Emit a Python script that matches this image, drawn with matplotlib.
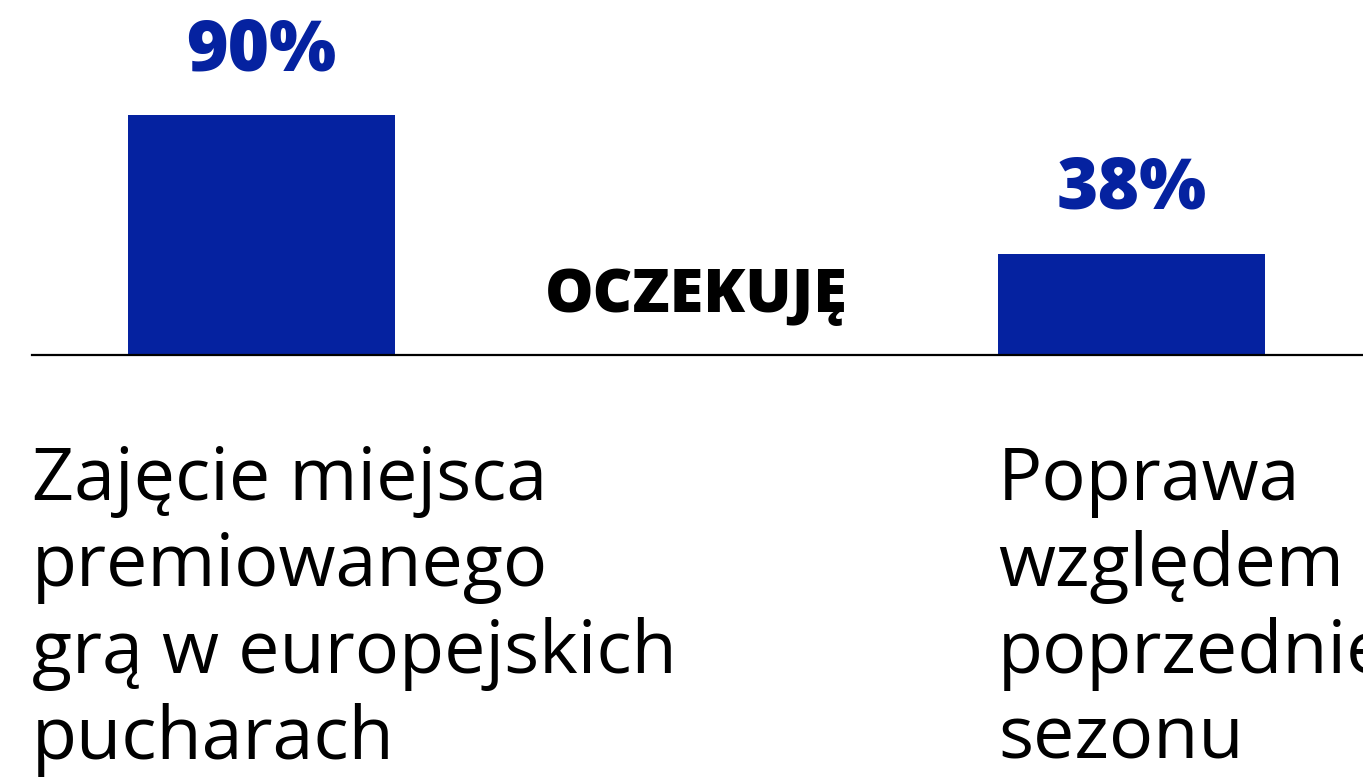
import matplotlib.pyplot as plt

categories = ["Zajęcie miejsca\npremiowanego\ngrą w europejskich\npucharach",
              "Poprawa\nwzględem\npoprzedniego\nsezonu"]
values = [90, 38]
value_labels = ["90%", "38%"]
group_label = "OCZEKUJĘ"

BLUE = "#0522a0"
FONT = "Open Sans"

W, H = 1363, 780
fig = plt.figure(figsize=(W / 100, H / 100), dpi=100)

# axes placed so the baseline sits where it does in the reference
ax = fig.add_axes([32 / W, (H - 355) / H, 1 - 32 / W, 355 / H])
x = [0, 1]
ax.bar(x, values, width=0.307, color=BLUE, zorder=2)
ax.set_xlim(-0.2638, 1.2661)
ax.set_ylim(0, 355 / 240 * 90)

for xi, v, lab in zip(x, values, value_labels):
    ax.annotate(lab, (xi, v), xytext=(0, 20), textcoords="offset points",
                ha="center", va="bottom", color=BLUE, fontsize=51,
                fontweight="extra bold", family=FONT)

ax.text(0.5, 0.083, group_label, transform=ax.get_xaxis_transform(),
        ha="center", va="bottom", fontsize=44, fontweight="extra bold",
        family=FONT, color="black")

for s in ["top", "left", "right"]:
    ax.spines[s].set_visible(False)
ax.spines["bottom"].set_linewidth(1.6)
ax.spines["bottom"].set_zorder(3)
ax.set_xticks([])
ax.set_yticks([])
ax.patch.set_alpha(0)

# category captions below the baseline
label_x = [32, 998]
for lx, cat in zip(label_x, categories):
    fig.text(lx / W, 1 - 444 / H, cat, ha="left", va="top", fontsize=53,
             family=FONT, color="black", linespacing=1.22)

fig.savefig("out.png", dpi=100, facecolor="white")
